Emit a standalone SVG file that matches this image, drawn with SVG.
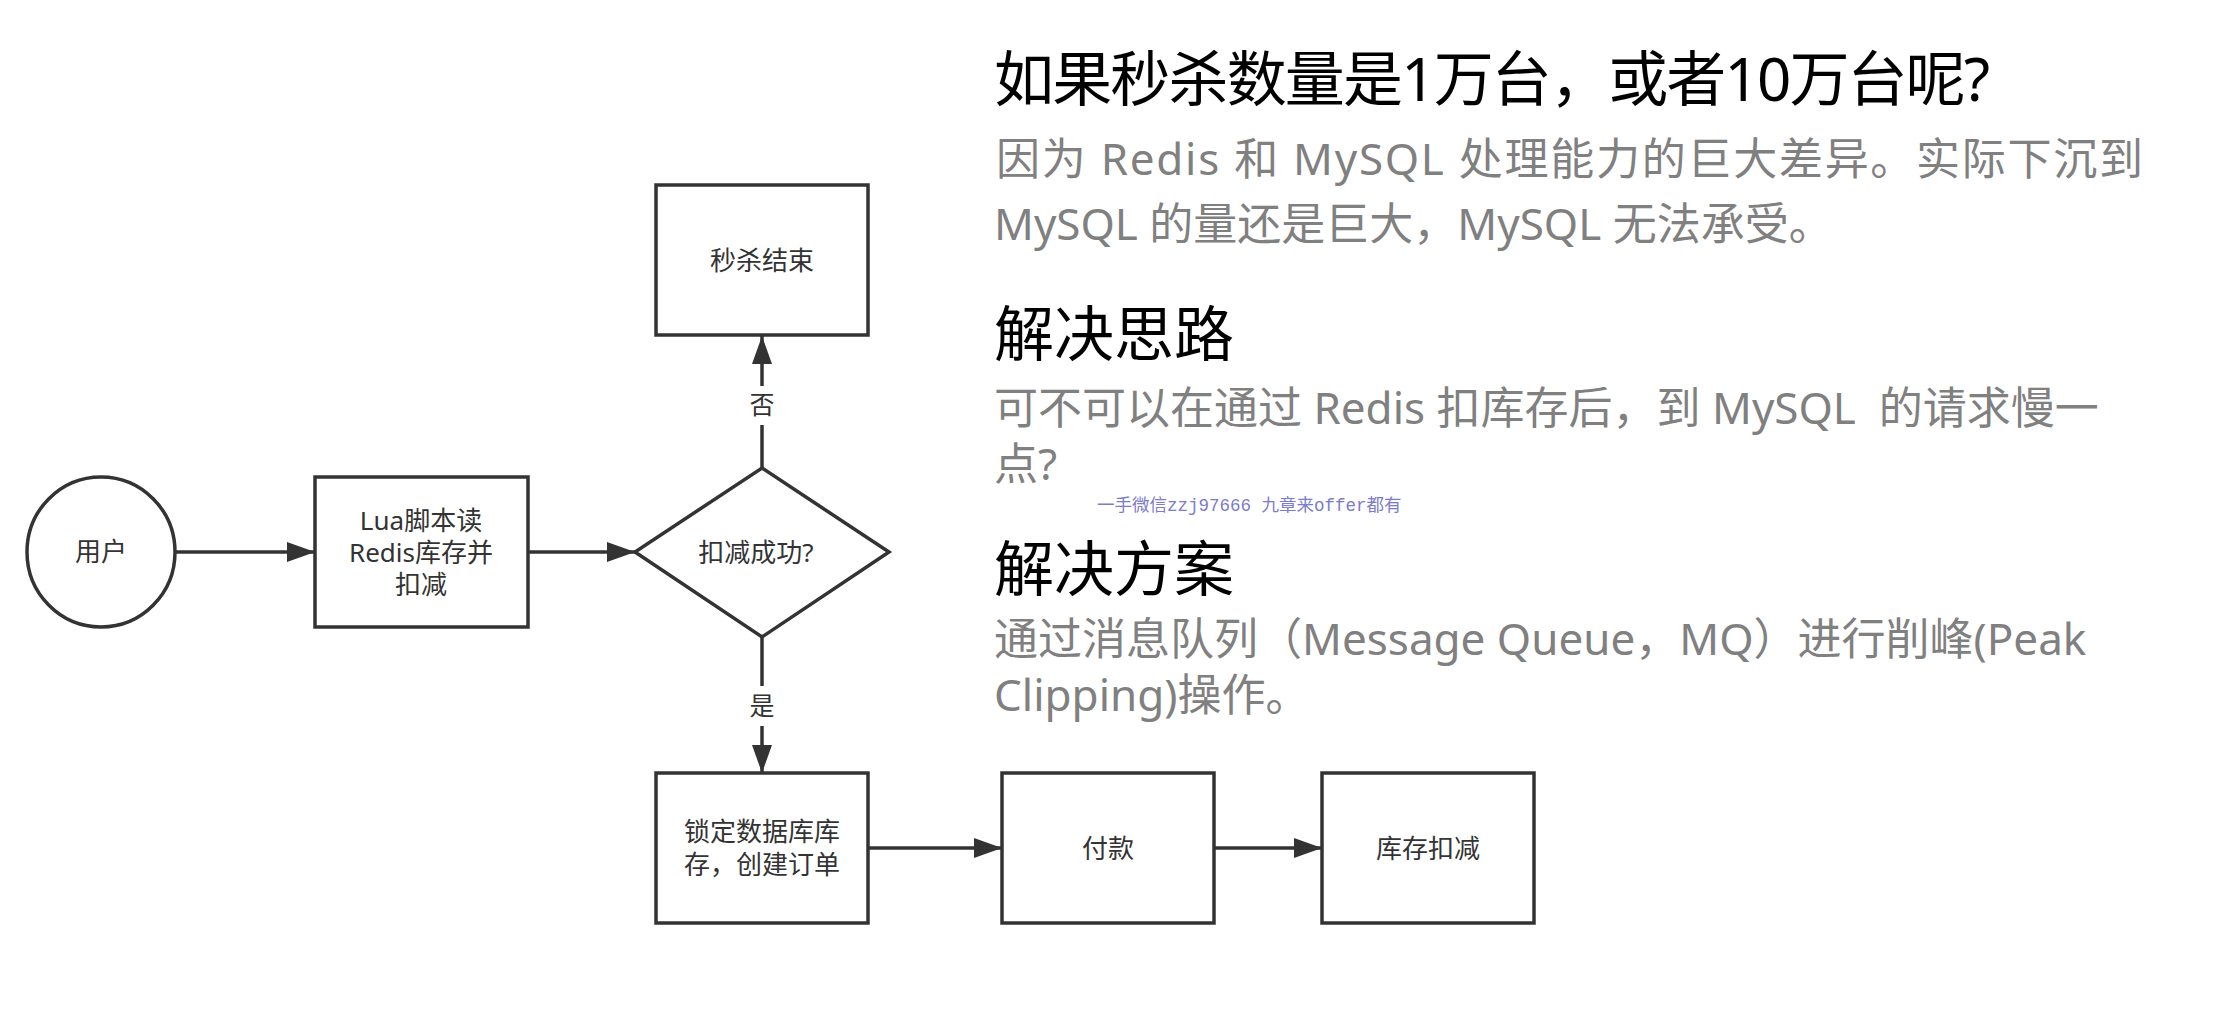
<svg xmlns="http://www.w3.org/2000/svg" width="2218" height="1028" viewBox="0 0 2218 1028">
<style>
.shape{fill:#ffffff;stroke:#333333;stroke-width:3.5}
.conn{stroke:#333333;stroke-width:3.5;fill:none}
.lbl{font-family:"Noto Sans","Noto Sans CJK SC",sans-serif;font-size:26px;fill:#333333;text-anchor:middle}
.h{font-family:"Noto Sans","Noto Sans CJK SC",sans-serif;font-size:60px;fill:#000000}
.p{font-family:"Noto Sans","Noto Sans CJK SC",sans-serif;font-size:44px;fill:#808080;white-space:pre}
.wm{font-family:"Liberation Mono","Noto Sans CJK SC",monospace;font-size:17.5px;fill:#7b7bcf;white-space:pre}
</style>
<defs>
<marker id="arr" markerUnits="userSpaceOnUse" markerWidth="28" markerHeight="20" refX="28" refY="10" orient="auto">
<path d="M0,0 L28,10 L0,20 z" fill="#333333"/>
</marker>
</defs>
<rect width="2218" height="1028" fill="#ffffff"/>

<g id="connectors">
<line class="conn" x1="175" y1="552" x2="315" y2="552" marker-end="url(#arr)"/>
<line class="conn" x1="528" y1="552" x2="635" y2="552" marker-end="url(#arr)"/>
<line class="conn" x1="762" y1="468" x2="762" y2="425"/>
<line class="conn" x1="762" y1="386" x2="762" y2="336" marker-end="url(#arr)"/>
<text class="lbl" x="762" y="414" style="font-size:25px">否</text>
<line class="conn" x1="762" y1="637" x2="762" y2="686"/>
<line class="conn" x1="762" y1="726" x2="762" y2="773" marker-end="url(#arr)"/>
<text class="lbl" x="762" y="715" style="font-size:25px">是</text>
<line class="conn" x1="868" y1="848" x2="1002" y2="848" marker-end="url(#arr)"/>
<line class="conn" x1="1214" y1="848" x2="1322" y2="848" marker-end="url(#arr)"/>
</g>

<g id="node-user">
<ellipse class="shape" cx="101" cy="552" rx="74" ry="75"/>
<text class="lbl" x="101" y="561">用户</text>
</g>
<g id="node-lua">
<rect class="shape" x="315" y="477" width="213" height="150"/>
<text class="lbl" x="421" y="530">Lua脚本读</text>
<text class="lbl" x="421" y="562">Redis库存并</text>
<text class="lbl" x="421" y="594">扣减</text>
</g>
<g id="node-decision">
<polygon class="shape" points="762,468 889,552 762,637 635,552"/>
<text class="lbl" x="756" y="562">扣减成功?</text>
</g>
<g id="node-end">
<rect class="shape" x="656" y="185" width="212" height="150"/>
<text class="lbl" x="762" y="270">秒杀结束</text>
</g>
<g id="node-lock">
<rect class="shape" x="656" y="773" width="212" height="150"/>
<text class="lbl" x="762" y="841">锁定数据库库</text>
<text class="lbl" x="762" y="874">存，创建订单</text>
</g>
<g id="node-pay">
<rect class="shape" x="1002" y="773" width="212" height="150"/>
<text class="lbl" x="1108" y="858">付款</text>
</g>
<g id="node-stock">
<rect class="shape" x="1322" y="773" width="212" height="150"/>
<text class="lbl" x="1428" y="858">库存扣减</text>
</g>

<g id="notes">
<text class="h" x="994" y="101" textLength="996" lengthAdjust="spacing">如果秒杀数量是1万台，或者10万台呢?</text>
<text class="p" x="996" y="175" textLength="1147" lengthAdjust="spacing">因为 Redis 和 MySQL 处理能力的巨大差异。实际下沉到</text>
<text class="p" x="994" y="240">MySQL 的量还是巨大，MySQL 无法承受。</text>
<text class="h" x="994" y="356">解决思路</text>
<text class="p" x="994" y="424">可不可以在通过 Redis 扣库存后，到 MySQL  的请求慢一</text>
<text class="p" x="994" y="480">点?</text>
<text class="wm" x="1097" y="511">一手微信zzj97666 九章来offer都有</text>
<text class="h" x="994" y="591">解决方案</text>
<text class="p" x="994" y="655">通过消息队列（Message Queue，MQ）进行削峰(Peak</text>
<text class="p" x="994" y="711">Clipping)操作。</text>
</g>
</svg>
